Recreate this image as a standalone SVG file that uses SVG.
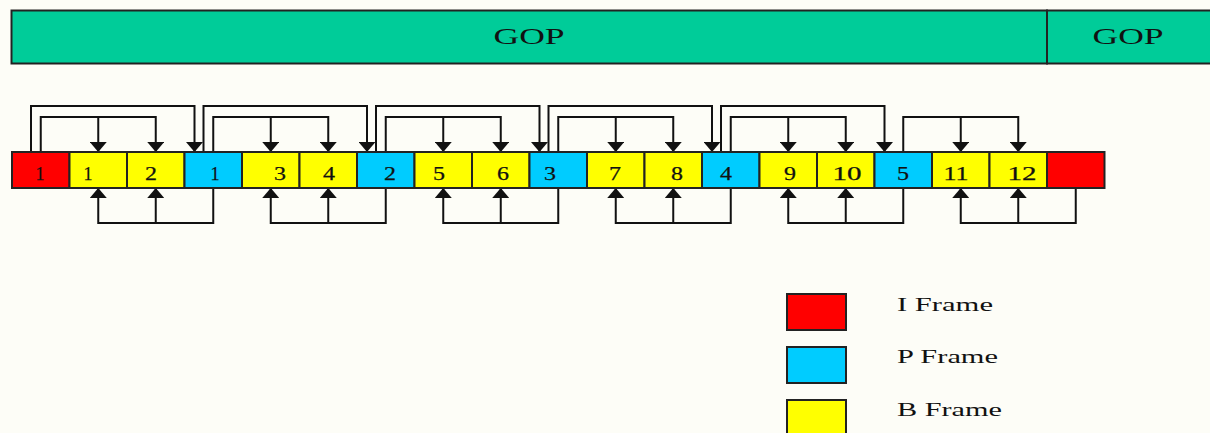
<svg xmlns="http://www.w3.org/2000/svg" width="1210" height="433" viewBox="0 0 1210 433">
  <style>
    .gop { fill: #00cc99; stroke: #222; stroke-width: 2; }
    .gopt { font-family: "Liberation Serif", serif; font-size: 24px; fill: #111; text-anchor: middle; }
    .cell { stroke: #222; stroke-width: 2; }
    .I { fill: #ff0000; }
    .P { fill: #00ccff; }
    .B { fill: #ffff00; }
    .num { font-family: "Liberation Serif", serif; font-size: 19px; fill: #111; text-anchor: middle; stroke: #111; stroke-width: 0.25; }
    .lg { font-family: "Liberation Serif", serif; font-size: 19px; fill: #111; }
    .ln { fill: none; stroke: #111; stroke-width: 2; marker-end: url(#ah); }
  </style>
  <defs>
    <marker id="ah" markerUnits="userSpaceOnUse" markerWidth="10" markerHeight="17" viewBox="0 0 10 17" refX="10" refY="8.5" orient="auto">
      <path d="M0,0 L10,8.5 L0,17 Z" fill="#111"/>
    </marker>
  </defs>
  <rect width="1210" height="433" fill="#fdfdf7"/>

  <!-- GOP bar -->
  <g id="gop-1">
    <rect class="gop" x="11.5" y="10.5" width="1035.5" height="53"/>
    <text class="gopt" x="529" y="44" textLength="71" lengthAdjust="spacingAndGlyphs">GOP</text>
  </g>
  <g id="gop-2">
    <rect class="gop" x="1047" y="10.5" width="170" height="53"/>
    <text class="gopt" x="1128" y="44" textLength="71" lengthAdjust="spacingAndGlyphs">GOP</text>
  </g>

  <!-- reference connectors -->
  <g id="connectors">
    <!-- long links: anchor frame to next P frame -->
    <path class="ln" d="M31,152 V106 H194.5 V152"/>
    <path class="ln" d="M203.5,152 V106 H367 V152"/>
    <path class="ln" d="M376,152 V106 H539.5 V152"/>
    <path class="ln" d="M548.5,152 V106 H712 V152"/>
    <path class="ln" d="M721,152 V106 H884.5 V152"/>
    <!-- forward links: anchor frame to its B frames -->
    <path class="ln" d="M40.75,152 V117 H155.75 V152"/>
    <path class="ln" d="M98.25,117 V152"/>
    <path class="ln" d="M213.25,152 V117 H328.25 V152"/>
    <path class="ln" d="M270.75,117 V152"/>
    <path class="ln" d="M385.75,152 V117 H500.75 V152"/>
    <path class="ln" d="M443.25,117 V152"/>
    <path class="ln" d="M558.25,152 V117 H673.25 V152"/>
    <path class="ln" d="M615.75,117 V152"/>
    <path class="ln" d="M730.75,152 V117 H845.75 V152"/>
    <path class="ln" d="M788.25,117 V152"/>
    <path class="ln" d="M903.25,152 V117 H1018.25 V152"/>
    <path class="ln" d="M960.75,117 V152"/>
    <!-- backward links: next anchor frame to the B frames before it -->
    <path class="ln" d="M213.25,188 V223 H98.25 V188"/>
    <path class="ln" d="M155.75,223 V188"/>
    <path class="ln" d="M385.75,188 V223 H270.75 V188"/>
    <path class="ln" d="M328.25,223 V188"/>
    <path class="ln" d="M558.25,188 V223 H443.25 V188"/>
    <path class="ln" d="M500.75,223 V188"/>
    <path class="ln" d="M730.75,188 V223 H615.75 V188"/>
    <path class="ln" d="M673.25,223 V188"/>
    <path class="ln" d="M903.25,188 V223 H788.25 V188"/>
    <path class="ln" d="M845.75,223 V188"/>
    <path class="ln" d="M1075.75,188 V223 H960.75 V188"/>
    <path class="ln" d="M1018.25,223 V188"/>
  </g>

  <!-- frame sequence -->
  <g id="f0"><rect class="cell I" x="12" y="152" width="57.5" height="36"/><text class="num" x="40" y="180" textLength="9" lengthAdjust="spacingAndGlyphs">1</text></g>
  <g id="f1"><rect class="cell B" x="69.5" y="152" width="57.5" height="36"/><text class="num" x="88" y="180" textLength="9" lengthAdjust="spacingAndGlyphs">1</text></g>
  <g id="f2"><rect class="cell B" x="127" y="152" width="57.5" height="36"/><text class="num" x="151" y="180" textLength="12" lengthAdjust="spacingAndGlyphs">2</text></g>
  <g id="f3"><rect class="cell P" x="184.5" y="152" width="57.5" height="36"/><text class="num" x="215" y="180" textLength="9" lengthAdjust="spacingAndGlyphs">1</text></g>
  <g id="f4"><rect class="cell B" x="242" y="152" width="57.5" height="36"/><text class="num" x="280" y="180" textLength="12" lengthAdjust="spacingAndGlyphs">3</text></g>
  <g id="f5"><rect class="cell B" x="299.5" y="152" width="57.5" height="36"/><text class="num" x="329" y="180" textLength="12" lengthAdjust="spacingAndGlyphs">4</text></g>
  <g id="f6"><rect class="cell P" x="357" y="152" width="57.5" height="36"/><text class="num" x="390" y="180" textLength="12" lengthAdjust="spacingAndGlyphs">2</text></g>
  <g id="f7"><rect class="cell B" x="414.5" y="152" width="57.5" height="36"/><text class="num" x="439" y="180" textLength="12" lengthAdjust="spacingAndGlyphs">5</text></g>
  <g id="f8"><rect class="cell B" x="472" y="152" width="57.5" height="36"/><text class="num" x="503" y="180" textLength="12" lengthAdjust="spacingAndGlyphs">6</text></g>
  <g id="f9"><rect class="cell P" x="529.5" y="152" width="57.5" height="36"/><text class="num" x="550" y="180" textLength="12" lengthAdjust="spacingAndGlyphs">3</text></g>
  <g id="f10"><rect class="cell B" x="587" y="152" width="57.5" height="36"/><text class="num" x="615" y="180" textLength="12" lengthAdjust="spacingAndGlyphs">7</text></g>
  <g id="f11"><rect class="cell B" x="644.5" y="152" width="57.5" height="36"/><text class="num" x="677" y="180" textLength="12" lengthAdjust="spacingAndGlyphs">8</text></g>
  <g id="f12"><rect class="cell P" x="702" y="152" width="57.5" height="36"/><text class="num" x="726" y="180" textLength="12" lengthAdjust="spacingAndGlyphs">4</text></g>
  <g id="f13"><rect class="cell B" x="759.5" y="152" width="57.5" height="36"/><text class="num" x="790" y="180" textLength="12" lengthAdjust="spacingAndGlyphs">9</text></g>
  <g id="f14"><rect class="cell B" x="817" y="152" width="57.5" height="36"/><text class="num" x="847" y="180" textLength="29" lengthAdjust="spacingAndGlyphs">10</text></g>
  <g id="f15"><rect class="cell P" x="874.5" y="152" width="57.5" height="36"/><text class="num" x="903" y="180" textLength="12" lengthAdjust="spacingAndGlyphs">5</text></g>
  <g id="f16"><rect class="cell B" x="932" y="152" width="57.5" height="36"/><text class="num" x="956" y="180" textLength="25" lengthAdjust="spacingAndGlyphs">11</text></g>
  <g id="f17"><rect class="cell B" x="989.5" y="152" width="57.5" height="36"/><text class="num" x="1022" y="180" textLength="29" lengthAdjust="spacingAndGlyphs">12</text></g>
  <g id="f18"><rect class="cell I" x="1047" y="152" width="57.5" height="36"/></g>

  <!-- legend -->
  <g id="legend-i">
    <rect class="cell I" x="787" y="294" width="59" height="36"/>
    <text class="lg" x="897" y="311" textLength="96" lengthAdjust="spacingAndGlyphs">I Frame</text>
  </g>
  <g id="legend-p">
    <rect class="cell P" x="787" y="347" width="59" height="36"/>
    <text class="lg" x="897" y="363" textLength="101" lengthAdjust="spacingAndGlyphs">P Frame</text>
  </g>
  <g id="legend-b">
    <rect class="cell B" x="787" y="400" width="59" height="36"/>
    <text class="lg" x="897" y="416" textLength="105" lengthAdjust="spacingAndGlyphs">B Frame</text>
  </g>
</svg>
